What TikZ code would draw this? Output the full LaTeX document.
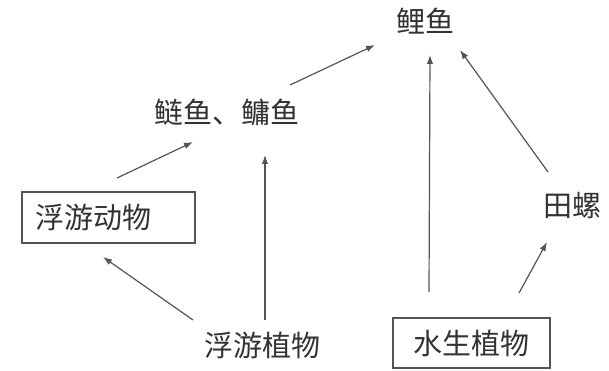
\documentclass[tikz,border=0pt]{standalone}
\usepackage{fontspec}
\newfontfamily\cjk{Noto Sans CJK SC}
\usetikzlibrary{calc,arrows.meta}
\definecolor{ink}{HTML}{333333}
\definecolor{wire}{HTML}{555555}
\tikzset{
  lbl/.style={inner sep=0pt, text=ink, font=\cjk\fontsize{29}{31}\selectfont},
  boxed/.style={lbl, draw=wire, line width=1.2pt},
  arr/.style={draw=wire, line width=1.2pt, -{Latex[length=9pt,width=6.5pt]}}
}
\begin{document}
\begin{tikzpicture}[x=1pt,y=-1pt]
\useasboundingbox (0,0) rectangle (609,371);
\node[lbl] (ly) at (425,21) {鲤鱼};
\node[lbl] (ly2) at (227,112) {鲢鱼、鳙鱼};
\node[boxed, minimum height=51pt, text width=147pt, inner xsep=13pt, align=left] (zoo) at (108.5,217.5) {浮游动物};
\node[lbl] (pp) at (262,345) {浮游植物};
\node[boxed, minimum width=157pt, minimum height=50pt] (sp) at (471.5,343) {水生植物};
\node[lbl] (tl) at (572,206) {田螺};
\draw[arr] ($(zoo)+(8.5,-39.5)$) -- ($(ly2)+(-34,30)$);
\draw[arr] ($(ly2)+(63,-27)$) -- ($(ly)+(-50,24)$);
\draw[arr] ($(pp)+(-69,-25)$) -- ($(zoo)+(-5.5,39.5)$);
\draw[arr] ($(pp)+(3,-25)$) -- ($(ly2)+(38,43)$);
\draw[arr] ($(sp)+(-42.5,-51)$) -- ($(ly)+(5,34)$);
\draw[arr] ($(sp)+(47.5,-50)$) -- ($(tl)+(-25,36)$);
\draw[arr] ($(tl)+(-24,-34)$) -- ($(ly)+(35,29)$);
\end{tikzpicture}
\end{document}
